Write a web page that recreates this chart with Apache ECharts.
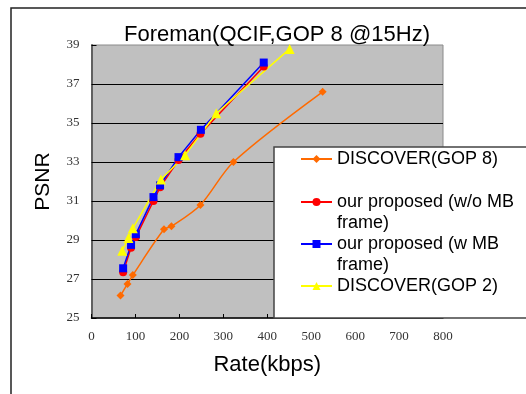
<!DOCTYPE html>
<html>
<head>
<meta charset="utf-8">
<script src="https://cdn.jsdelivr.net/npm/echarts@6/dist/echarts.min.js"></script>
<style>
  html, body { margin: 0; padding: 0; background: #fff; }
  #chart { width: 526px; height: 394px; }
</style>
</head>
<body>
<div id="chart"></div>
<script>
// rate (kbps) / PSNR (dB) pairs
const discoverGop8 = [[66, 26.15], [82, 26.75], [94, 27.2], [165, 29.55], [182, 29.7], [248, 30.8], [323, 33.0], [526, 36.6]]
const proposedNoMb = [[72, 27.35], [90, 28.6], [101, 29.15], [141, 31.0], [156, 31.7], [198, 33.1], [248, 34.45], [392, 37.9]]
const proposedMb = [[72, 27.55], [90, 28.75], [101, 29.3], [141, 31.2], [156, 31.8], [198, 33.25], [249, 34.65], [392, 38.1]]
const discoverGop2 = [[70, 28.45], [84, 29.1], [94, 29.6], [158, 32.1], [213, 33.35], [284, 35.5], [451, 38.8]]

const seriesNames = ['DISCOVER(GOP 8)', 'our proposed (w/o MB frame)', 'our proposed (w MB frame)', 'DISCOVER(GOP 2)']
// leading blank line keeps the marker level with the first text line
const legendLabels = ['DISCOVER(GOP 8)', '\nour proposed (w/o MB\nframe)', '\nour proposed (w MB\nframe)', 'DISCOVER(GOP 2)']
const legendTops = [148.5, 170.5, 212.5, 275.5]

const chart = echarts.init(document.getElementById('chart'))

const tickFont = { fontFamily: 'Liberation Serif', fontSize: 13, color: '#333' }

const legends = seriesNames.map((name, i) => ({
  data: [name],
  left: 300,
  top: legendTops[i],
  padding: 0,
  itemWidth: 31,
  itemHeight: 10,
  formatter: () => legendLabels[i],
  textStyle: {
    fontFamily: 'Liberation Sans',
    fontSize: 18,
    lineHeight: 21,
    color: '#000'
  }
}))

const option = {
  animation: false,
  title: {
    text: 'Foreman(QCIF,GOP 8 @15Hz)',
    left: 272,
    textAlign: 'center',
    top: 19,
    textStyle: { fontFamily: 'Liberation Sans', fontSize: 22, fontWeight: 'normal', color: '#000' }
  },
  graphic: [
    {
      type: 'rect',
      z: 0,
      shape: { x: 11, y: 8, width: 600, height: 500 },
      style: { fill: 'none', stroke: '#222', lineWidth: 1.5 }
    },
    {
      type: 'rect',
      z: 3,
      shape: { x: 274, y: 147, width: 300, height: 171 },
      style: { fill: '#fff', stroke: '#444', lineWidth: 1.5 }
    }
  ],
  legend: legends,
  grid: {
    left: 91.5,
    top: 45,
    width: 351.5,
    height: 273,
    show: true,
    backgroundColor: '#c0c0c0',
    borderColor: '#8a8a8a',
    borderWidth: 1
  },
  xAxis: {
    type: 'value',
    min: 0,
    max: 800,
    interval: 100,
    name: 'Rate(kbps)',
    nameLocation: 'middle',
    nameGap: 36,
    nameTextStyle: { fontFamily: 'Liberation Sans', fontSize: 22, color: '#000' },
    axisLine: { show: true, lineStyle: { color: '#000', width: 1.5 } },
    axisTick: { show: true, inside: true, length: 4, lineStyle: { color: '#000' } },
    axisLabel: Object.assign({ margin: 12 }, tickFont),
    splitLine: { show: false }
  },
  yAxis: {
    type: 'value',
    min: 25,
    max: 39,
    interval: 2,
    name: 'PSNR',
    nameLocation: 'middle',
    nameGap: 38,
    nameRotate: 90,
    nameTextStyle: { fontFamily: 'Liberation Sans', fontSize: 21, color: '#000' },
    axisLine: { show: true, lineStyle: { color: '#606060', width: 2 } },
    axisTick: { show: true, inside: true, length: 5, lineStyle: { color: '#000' } },
    axisLabel: Object.assign({ margin: 12 }, tickFont),
    splitLine: { show: true, showMaxLine: false, showMinLine: false, lineStyle: { color: '#000', width: 1 } }
  },
  series: [
    {
      name: seriesNames[0],
      type: 'line',
      data: discoverGop8,
      smooth: 0.3,
      symbol: 'diamond',
      symbolSize: 8,
      itemStyle: { color: '#ff6a00' },
      lineStyle: { color: '#ff6a00', width: 1.5 }
    },
    {
      name: seriesNames[1],
      type: 'line',
      data: proposedNoMb,
      symbol: 'circle',
      symbolSize: 8,
      itemStyle: { color: '#ff0000' },
      lineStyle: { color: '#ff0000', width: 1.5 }
    },
    {
      name: seriesNames[2],
      type: 'line',
      data: proposedMb,
      symbol: 'rect',
      symbolSize: 8,
      itemStyle: { color: '#0000ff' },
      lineStyle: { color: '#0000ff', width: 1.5 }
    },
    {
      name: seriesNames[3],
      type: 'line',
      data: discoverGop2,
      symbol: 'triangle',
      symbolSize: 10,
      itemStyle: { color: '#ffff00' },
      lineStyle: { color: '#ffff00', width: 1.5 }
    }
  ]
}

chart.setOption(option)
</script>
</body>
</html>
